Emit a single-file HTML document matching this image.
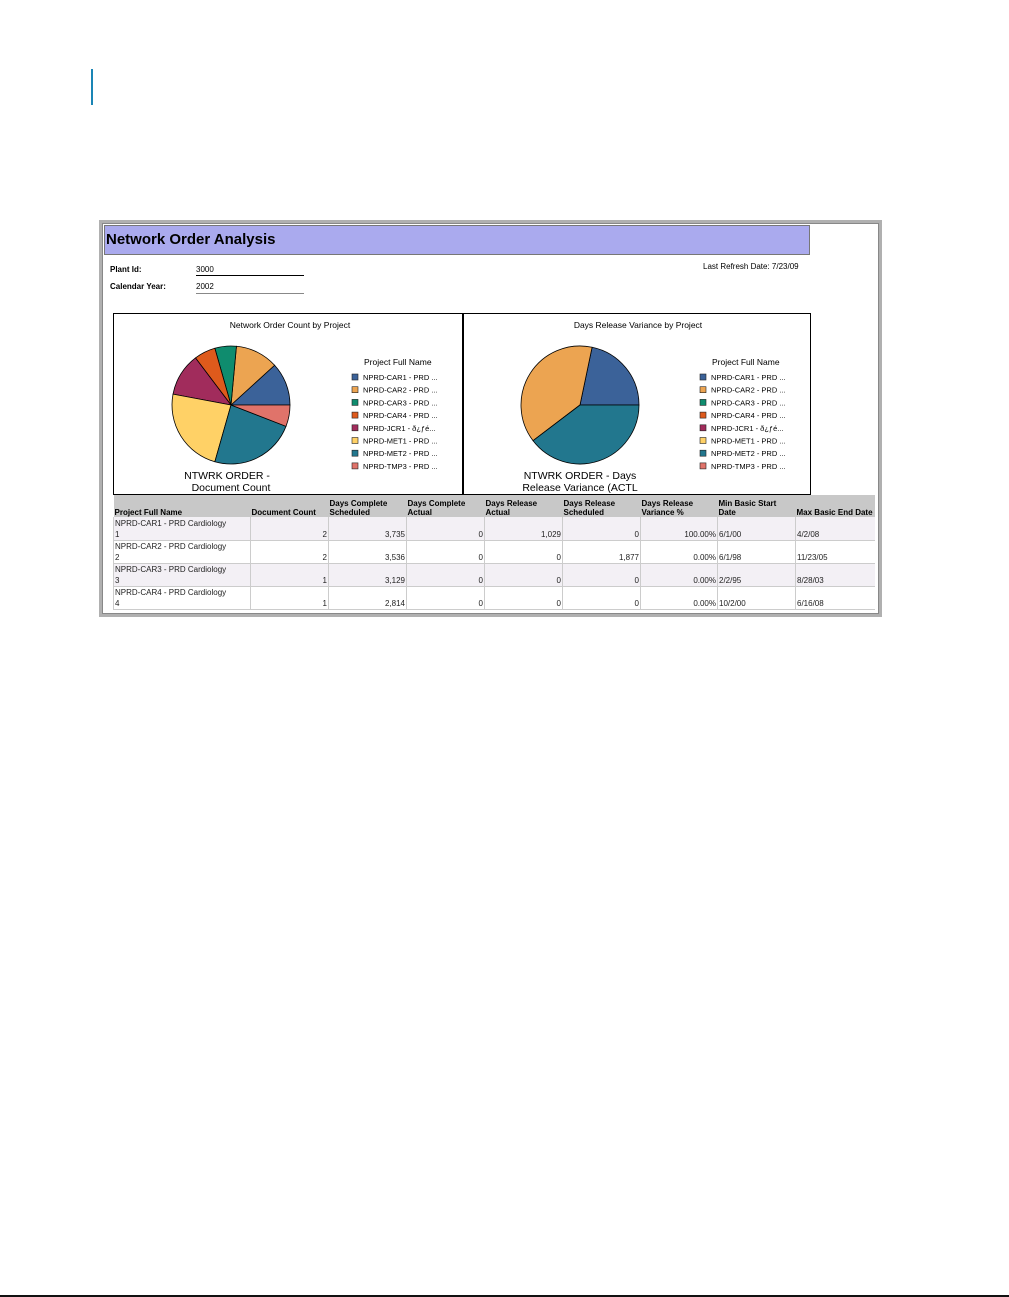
<!DOCTYPE html>
<html><head><meta charset="utf-8">
<style>
*{margin:0;padding:0;box-sizing:border-box}
body{width:1009px;height:1297px;background:#fff;position:relative;font-family:"Liberation Sans",Arial,sans-serif;overflow:hidden}
.abs{position:absolute}
.t{position:absolute;white-space:nowrap;color:#000}
table{border-collapse:collapse;position:absolute;left:113px;top:495px;width:761px;font-size:8px;table-layout:fixed}
th{background:#c8c8c8;text-align:left;vertical-align:bottom;font-weight:bold;height:22px;padding:0 1px;line-height:9px;font-size:8px}
td{height:23px;border-left:1px solid #ccc;border-bottom:1px solid #ccc;padding:0 1px;vertical-align:bottom;line-height:11px;color:#222}
td.n{text-align:right}
tr.a td{background:#f3f0f5}
</style></head><body>
<div class="abs" style="left:91px;top:69px;width:2px;height:36px;background:#1a85b5"></div>
<div class="abs" style="left:0;top:1295px;width:1009px;height:2px;background:#111"></div>

<div class="abs" style="left:99px;top:220px;width:783px;height:397px;border:3px solid #b0b0b0;outline:1px solid #888;outline-offset:-4px;background:#fff"></div>
<div class="abs" style="left:104px;top:225px;width:706px;height:30px;background:#aaaaee;border:1px solid #777"></div>
<div class="t" style="left:106px;top:231px;font-size:15px;font-weight:bold">Network Order Analysis</div>

<div class="t" style="left:110px;top:265px;font-size:8px;font-weight:bold">Plant Id:</div>
<div class="t" style="left:196px;top:265px;font-size:8px;width:108px;border-bottom:1px solid #000;height:11px">3000</div>
<div class="t" style="left:110px;top:282px;font-size:8px;font-weight:bold">Calendar Year:</div>
<div class="t" style="left:196px;top:282px;font-size:8px;width:108px;border-bottom:1px solid #888;height:12px">2002</div>
<div class="t" style="left:703px;top:262px;font-size:8px">Last Refresh Date: 7/23/09</div>

<div class="abs" style="left:113px;top:313px;width:351px;height:182px;border:1px solid #000;border-right:2px solid #000"></div>
<div class="abs" style="left:463px;top:313px;width:348px;height:182px;border:1px solid #000"></div>

<svg class="abs" style="left:0;top:0" width="1009" height="620" id="charts"></svg>

<table>
<colgroup><col style="width:137px"><col style="width:78px"><col style="width:78px"><col style="width:78px"><col style="width:78px"><col style="width:78px"><col style="width:77px"><col style="width:78px"><col style="width:79px"></colgroup>
<tr><th>Project Full Name</th><th>Document Count</th><th>Days Complete Scheduled</th><th>Days Complete Actual</th><th>Days Release Actual</th><th>Days Release Scheduled</th><th>Days Release Variance %</th><th>Min Basic Start Date</th><th>Max Basic End Date</th></tr>
<tr class="a"><td>NPRD-CAR1 - PRD Cardiology<br>1</td><td class="n">2</td><td class="n">3,735</td><td class="n">0</td><td class="n">1,029</td><td class="n">0</td><td class="n">100.00%</td><td>6/1/00</td><td>4/2/08</td></tr>
<tr><td>NPRD-CAR2 - PRD Cardiology<br>2</td><td class="n">2</td><td class="n">3,536</td><td class="n">0</td><td class="n">0</td><td class="n">1,877</td><td class="n">0.00%</td><td>6/1/98</td><td>11/23/05</td></tr>
<tr class="a"><td>NPRD-CAR3 - PRD Cardiology<br>3</td><td class="n">1</td><td class="n">3,129</td><td class="n">0</td><td class="n">0</td><td class="n">0</td><td class="n">0.00%</td><td>2/2/95</td><td>8/28/03</td></tr>
<tr><td>NPRD-CAR4 - PRD Cardiology<br>4</td><td class="n">1</td><td class="n">2,814</td><td class="n">0</td><td class="n">0</td><td class="n">0</td><td class="n">0.00%</td><td>10/2/00</td><td>6/16/08</td></tr>
</table>

<script>
const categories = ["NPRD-CAR1 - PRD ...","NPRD-CAR2 - PRD ...","NPRD-CAR3 - PRD ...","NPRD-CAR4 - PRD ...","NPRD-JCR1 - ð¿ƒé...","NPRD-MET1 - PRD ...","NPRD-MET2 - PRD ...","NPRD-TMP3 - PRD ..."];
const colors = ["#3b6299","#eca451","#0f8c6e","#de5a1c","#a12c5c","#ffd166","#22778e","#e0736a"];
const docCounts = [2,2,1,1,2,4,4,1];
const releaseVariance = [1029,1830,0,0,0,0,1880,0];

const NS="http://www.w3.org/2000/svg";
const svg=document.getElementById('charts');
function mk(tag,attrs){const e=document.createElementNS(NS,tag);for(const k in attrs)e.setAttribute(k,attrs[k]);svg.appendChild(e);return e;}
function txt(x,y,s,size,anchor,weight){const e=mk('text',{x:x,y:y,'font-size':size,'text-anchor':anchor||'start','font-family':'Liberation Sans, Arial, sans-serif','font-weight':weight||'normal',fill:'#000'});e.textContent=s;return e;}

function pie(cx,cy,r,vals,prefix){
  const tot=vals.reduce((a,b)=>a+b,0);
  let a0=0;
  vals.forEach((v,i)=>{
    if(v<=0)return;
    const a1=a0+v/tot*2*Math.PI;
    const x0=cx+r*Math.cos(a0),y0=cy-r*Math.sin(a0);
    const x1=cx+r*Math.cos(a1),y1=cy-r*Math.sin(a1);
    const large=(a1-a0)>Math.PI?1:0;
    const p=mk('path',{d:`M${cx},${cy} L${x0},${y0} A${r},${r} 0 ${large} 0 ${x1},${y1} Z`,fill:colors[i],stroke:'#000','stroke-width':0.8});
    
    
    a0=a1;
  });
}
function legend(x,y,prefix){
  txt(x+12,y,'Project Full Name',8.5,'start');
  categories.forEach((c,i)=>{
    const yy=y+15+i*12.7;
    const r=mk('rect',{x:x,y:yy-6,width:6,height:6,fill:colors[i],stroke:'#222','stroke-width':0.6});
    
    
    const t=txt(x+11,yy,c,7.5,'start');
    
    
  });
}
txt(290,328,'Network Order Count by Project',8.5,'middle');
pie(231,405,59,docCounts,'count');
legend(352,365,'count');
txt(227,479,'NTWRK ORDER -',10.5,'middle');
txt(231,491,'Document Count',10.5,'middle');

txt(638,328,'Days Release Variance by Project',8.5,'middle');
pie(580,405,59,releaseVariance,'variance');
legend(700,365,'variance');
txt(580,479,'NTWRK ORDER - Days',10.5,'middle');
txt(580,491,'Release Variance (ACTL',10.5,'middle');
</script>
</body></html>
